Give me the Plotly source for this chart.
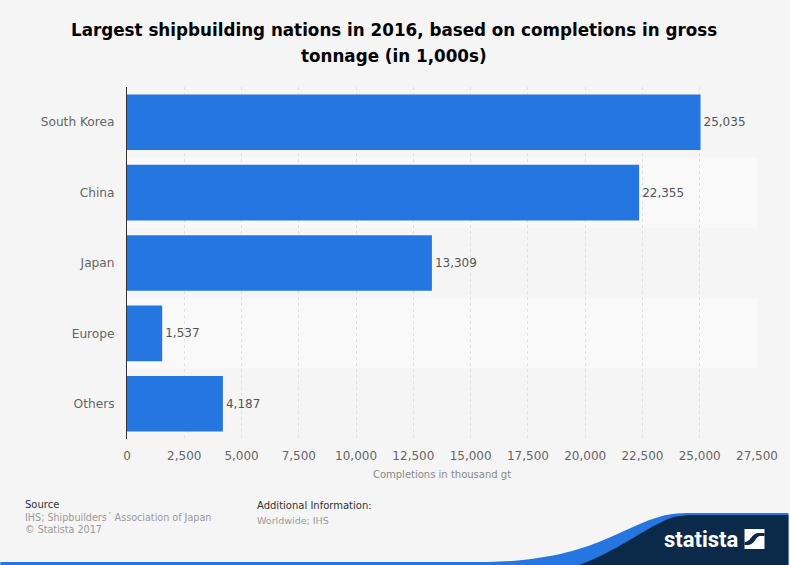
import plotly.graph_objects as go

categories = ["South Korea", "China", "Japan", "Europe", "Others"]
values = [25035, 22355, 13309, 1537, 4187]
tick_vals = list(range(0, 27501, 2500))
tick_text = [f"{v:,}" for v in tick_vals]
title_line_1 = "<b>Largest shipbuilding nations in 2016, based on completions in gross</b>"
title_line_2 = "<b>tonnage (in 1,000s)</b>"

W, H = 790, 565
L, R, T, B = 127, 28, 87, 126
PLOT_W = 631.5
FONT = "DejaVu Sans"
BG = "#f5f5f5"
BLUE = "#2576e0"
NAVY = "#0b2a4a"

def px(x):
    return (x - L) / PLOT_W

def py(y):
    return 1 - (y - T) / (H - T - B)

def path(points):
    out = []
    for p in points:
        cmd, coords = p[0], p[1:]
        vals = " ".join(f"{(px(coords[i]) if i % 2 == 0 else py(coords[i])):.5f}" for i in range(len(coords)))
        out.append(f"{cmd} {vals}")
    return " ".join(out) + " Z"

shapes = []
for i in (1, 3):
    shapes.append(dict(type="rect", xref="paper", x0=0, x1=1, yref="y", y0=i - 0.5, y1=i + 0.5,
                       fillcolor="#f9f9f9", line_width=0, layer="below"))

shapes.append(dict(type="path", xref="paper", yref="paper", line_width=0, fillcolor=BLUE,
                   path=path([("M", 0, 565), ("L", 0, 562), ("L", 490, 562),
                              ("C", 540, 561, 575, 552, 600, 542), ("C", 625, 532, 640, 523, 657, 518),
                              ("C", 668, 514, 678, 513, 695, 513),
                              ("L", 790, 513), ("L", 790, 565)])))
shapes.append(dict(type="path", xref="paper", yref="paper", line_width=0, fillcolor=NAVY,
                   path=path([("M", 580, 565), ("C", 595, 560, 605, 554, 617, 548),
                              ("C", 630, 541, 650, 528, 663, 522),
                              ("C", 672, 517, 682, 515, 695, 515), ("L", 790, 515), ("L", 790, 565)])))
shapes.append(dict(type="path", xref="paper", yref="paper", line_width=0, fillcolor="#ffffff",
                   path=path([("M", 746, 529), ("L", 766, 529), ("L", 766, 549), ("L", 746, 549)])))
shapes.append(dict(type="path", xref="paper", yref="paper", line_width=0, fillcolor=NAVY,
                   path=path([("M", 746, 542), ("C", 752, 542, 753, 534, 759, 533),
                              ("L", 766, 533), ("L", 766, 536), ("L", 761, 536),
                              ("C", 757, 537, 756, 545, 749, 545), ("L", 746, 545)])))

def note(x, y, text, size, color):
    return dict(xref="paper", yref="paper", x=px(x - 3), y=py(y), text=text, showarrow=False, xanchor="left",
                yanchor="middle", align="left", font=dict(family=FONT, size=size, color=color))

def centred(x, y, text, font):
    return dict(xref="paper", yref="paper", x=px(x), y=py(y), text=text, showarrow=False,
                xanchor="center", yanchor="middle", font=font)

annotations = [
    centred(395, 30, title_line_1, dict(family=FONT, size=16.75, color="#000000")),
    centred(395, 56, title_line_2, dict(family=FONT, size=16.75, color="#000000")),
    note(26, 504, "Source", 10, "#333333"),
    note(26, 517, "IHS; Shipbuilders´ Association of Japan", 9.6, "#999999"),
    note(26, 529, "© Statista 2017", 9.6, "#999999"),
    note(258, 505, "Additional Information:", 10, "#333333"),
    note(258, 520, "Worldwide; IHS", 9.5, "#999999"),
    centred(703, 539, "<b>statista</b>", dict(family="Roboto", size=22, color="#ffffff")),
]

fig = go.Figure(go.Bar(
    y=categories, x=values, orientation="h", marker=dict(color=BLUE, line_width=0),
    text=[f"{v:,}" for v in values], textposition="outside", cliponaxis=False,
    textfont=dict(family=FONT, size=12, color="#555555"),
))
fig.update_layout(
    width=W, height=H, margin=dict(l=L, r=R, t=T, b=B, pad=0), autosize=False,
    paper_bgcolor=BG, plot_bgcolor=BG, bargap=0.21, showlegend=False,
    font=dict(family=FONT, color="#666666"),
    shapes=shapes, annotations=annotations,
)
fig.update_xaxes(range=[0, 27500], tickvals=tick_vals, ticktext=tick_text, showgrid=True, griddash="dot",
                 gridcolor="#e0e0e0", gridwidth=1, zeroline=False, showline=False,
                 tickfont=dict(family=FONT, size=12, color="#666666"), ticks="", ticklabelstandoff=8,
                 title=dict(text="Completions in thousand gt", font=dict(family=FONT, size=10, color="#888888"), standoff=8))
fig.update_yaxes(categoryorder="array", categoryarray=categories, autorange="reversed", showgrid=False,
                 zeroline=False, showline=True, linecolor="#333333", linewidth=1, ticks="", ticklabelstandoff=9,
                 tickfont=dict(family=FONT, size=12.2, color="#666666"))
fig.write_html("out.html", config=dict(displayModeBar=False), post_script="document.body.style.margin='0';")
